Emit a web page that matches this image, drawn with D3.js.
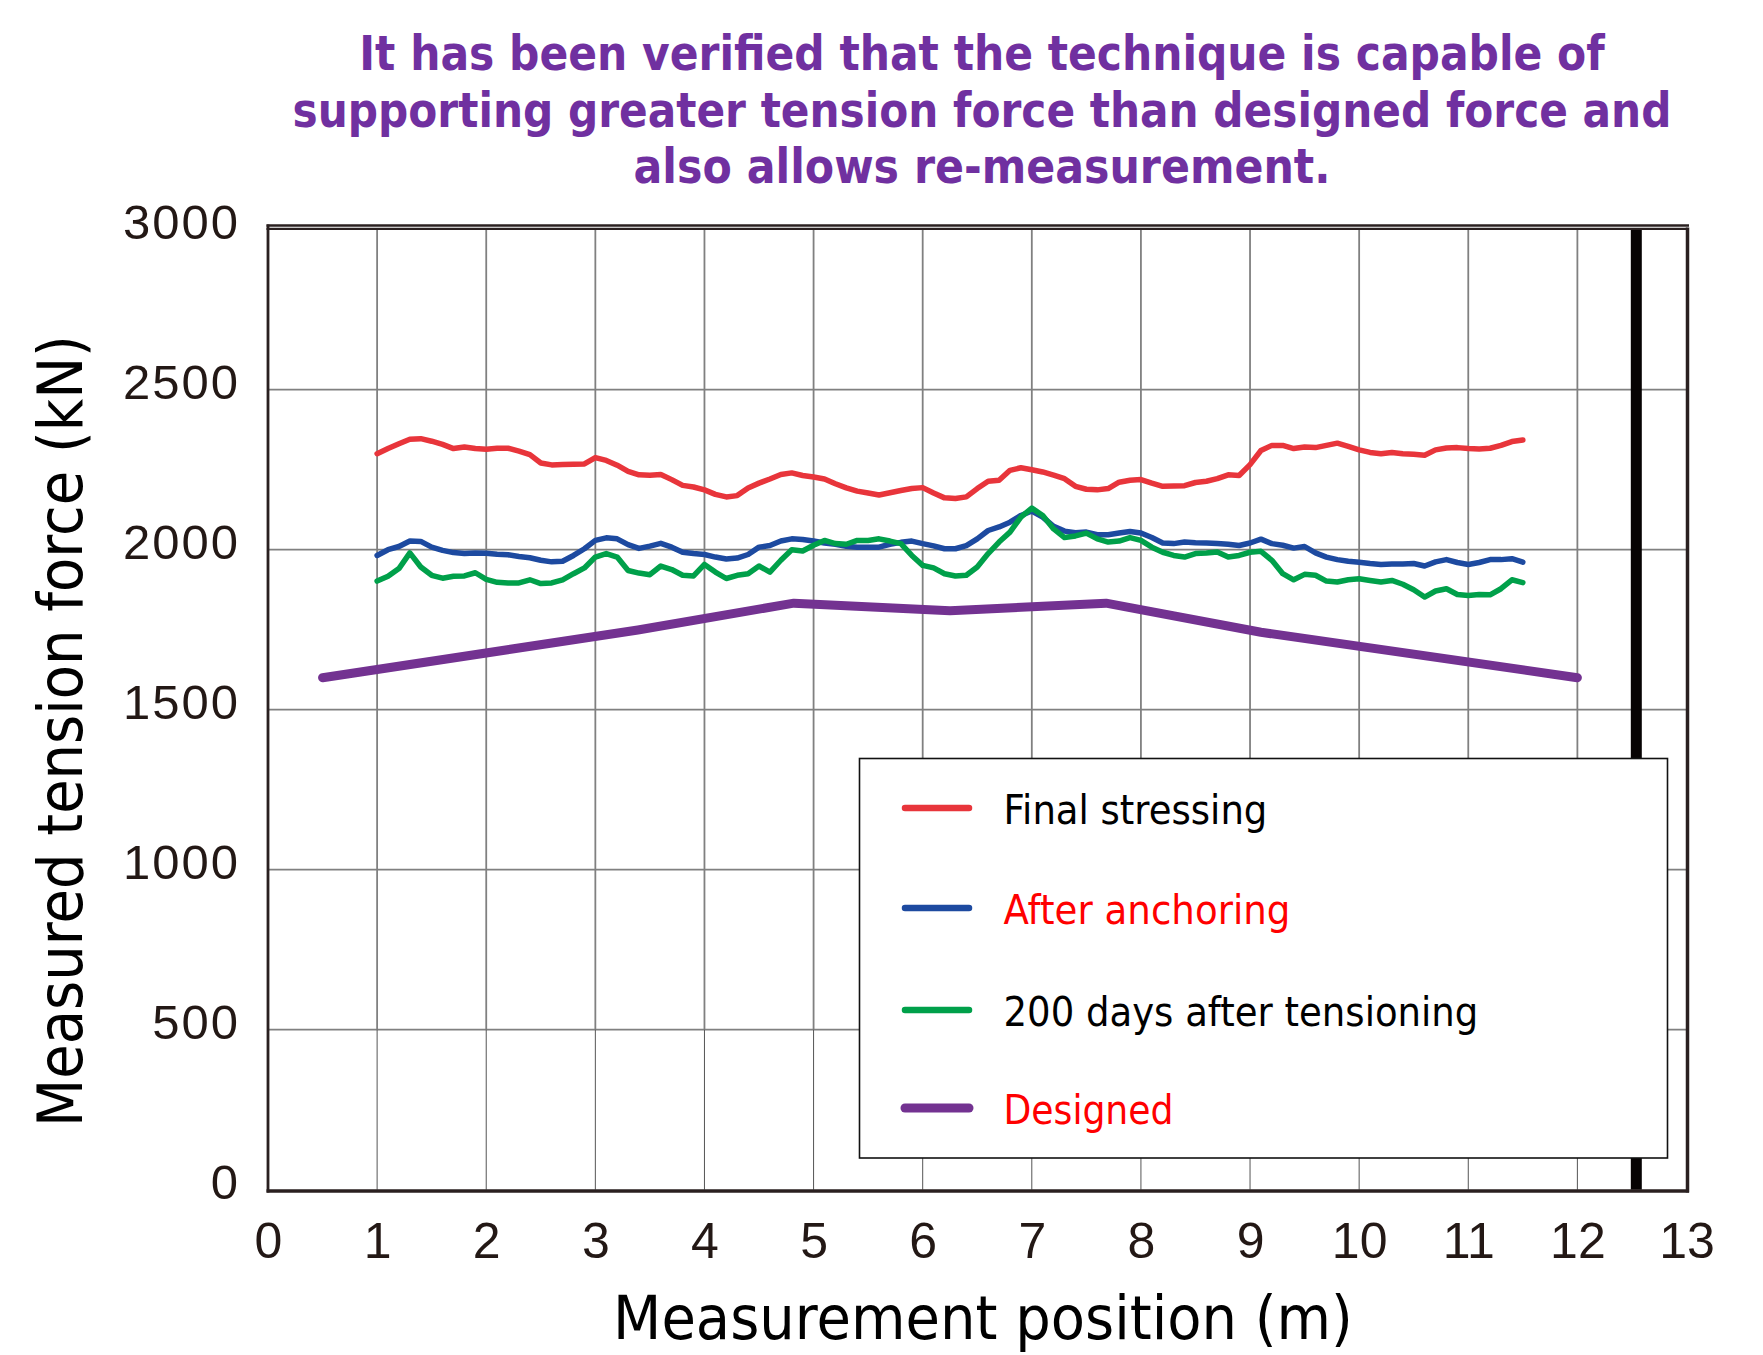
<!DOCTYPE html>
<html>
<head>
<meta charset="utf-8">
<script src="https://cdn.jsdelivr.net/npm/d3@7"></script>
<style>
  html, body { margin: 0; padding: 0; background: #fff; }
  svg { display: block; }
</style>
</head>
<body>
<div id="chart"></div>
<script>
// Measurement positions (m)
const positions = [
  1.0, 1.1, 1.2, 1.3, 1.4, 1.5, 1.6, 1.7, 1.8, 1.9,
  2.0, 2.1, 2.2, 2.3, 2.4, 2.5, 2.6, 2.7, 2.8, 2.9,
  3.0, 3.1, 3.2, 3.3, 3.4, 3.5, 3.6, 3.7, 3.8, 3.9,
  4.0, 4.1, 4.2, 4.3, 4.4, 4.5, 4.6, 4.7, 4.8, 4.9,
  5.0, 5.1, 5.2, 5.3, 5.4, 5.5, 5.6, 5.7, 5.8, 5.9,
  6.0, 6.1, 6.2, 6.3, 6.4, 6.5, 6.6, 6.7, 6.8, 6.9,
  7.0, 7.1, 7.2, 7.3, 7.4, 7.5, 7.6, 7.7, 7.8, 7.9,
  8.0, 8.1, 8.2, 8.3, 8.4, 8.5, 8.6, 8.7, 8.8, 8.9,
  9.0, 9.1, 9.2, 9.3, 9.4, 9.5, 9.6, 9.7, 9.8, 9.9,
  10.0, 10.1, 10.2, 10.3, 10.4, 10.5, 10.6, 10.7, 10.8, 10.9,
  11.0, 11.1, 11.2, 11.3, 11.4, 11.5
];

// Tension force (kN)
const finalStressing = [
  2300, 2316, 2331, 2345, 2347, 2339, 2329, 2316, 2321, 2316,
  2314, 2317, 2317, 2308, 2297, 2271, 2265, 2266, 2267, 2268,
  2288, 2279, 2264, 2245, 2234, 2233, 2235, 2219, 2201, 2196,
  2187, 2173, 2165, 2169, 2193, 2208, 2221, 2235, 2240, 2232,
  2227, 2221, 2206, 2193, 2183, 2177, 2171, 2178, 2185, 2191,
  2194, 2177, 2162, 2160, 2165, 2191, 2214, 2217, 2248, 2256,
  2250, 2243, 2233, 2222, 2198, 2189, 2187, 2191, 2211, 2217,
  2219, 2208, 2198, 2199, 2200, 2210, 2214, 2222, 2234, 2232,
  2266, 2310, 2326, 2326, 2316, 2321, 2319, 2326, 2333, 2323,
  2312, 2304, 2300, 2304, 2300, 2298, 2295, 2312, 2318, 2319,
  2316, 2315, 2317, 2326, 2338, 2343
];

const afterAnchoring = [
  1982, 2000, 2010, 2027, 2026, 2008, 1998, 1991, 1988, 1990,
  1989, 1986, 1984, 1979, 1975, 1967, 1962, 1964, 1982, 2003,
  2029, 2037, 2034, 2016, 2004, 2011, 2020, 2008, 1992, 1988,
  1985, 1977, 1971, 1974, 1985, 2008, 2013, 2027, 2034, 2032,
  2027, 2021, 2017, 2011, 2008, 2008, 2008, 2017, 2023, 2027,
  2019, 2012, 2003, 2003, 2013, 2034, 2060, 2071, 2086, 2107,
  2121, 2102, 2073, 2058, 2053, 2055, 2047, 2047, 2052, 2057,
  2052, 2038, 2021, 2019, 2024, 2022, 2021, 2019, 2017, 2013,
  2021, 2033, 2019, 2014, 2005, 2010, 1990, 1977, 1969, 1964,
  1961, 1957, 1954, 1955, 1955, 1957, 1949, 1962, 1969, 1960,
  1954, 1960, 1969, 1969, 1972, 1961
];

const days200 = [
  1902, 1917, 1941, 1990, 1946, 1920, 1911, 1917, 1918, 1928,
  1907, 1898, 1896, 1896, 1906, 1894, 1896, 1906, 1925, 1943,
  1977, 1988, 1977, 1935, 1927, 1922, 1949, 1938, 1920, 1918,
  1954, 1930, 1910, 1920, 1925, 1949, 1930, 1967, 2000, 1996,
  2014, 2029, 2019, 2017, 2029, 2029, 2034, 2027, 2019, 1982,
  1951, 1943, 1925, 1918, 1920, 1946, 1988, 2024, 2055, 2102,
  2130, 2107, 2065, 2038, 2043, 2052, 2034, 2024, 2027, 2038,
  2029, 2008, 1992, 1982, 1977, 1988, 1990, 1993, 1977, 1982,
  1992, 1995, 1967, 1925, 1906, 1923, 1920, 1902, 1899, 1906,
  1909, 1904, 1899, 1904, 1892, 1875, 1852, 1871, 1878, 1860,
  1857, 1860, 1859, 1878, 1906, 1897
];

const designedPositions = [0.5, 3.39, 4.82, 6.25, 7.68, 9.1, 12.0];
const designedValues = [1600, 1749, 1833, 1809, 1833, 1742, 1600];

const anchorLinePosition = 12.54;

const xTicks = [0, 1, 2, 3, 4, 5, 6, 7, 8, 9, 10, 11, 12, 13];
const yTicks = [0, 500, 1000, 1500, 2000, 2500, 3000];

const titleLines = [
  'It has been verified that the technique is capable of',
  'supporting greater tension force than designed force and',
  'also allows re-measurement.'
];

const legendItems = [
  { label: 'Final stressing', color: '#e8353b', textColor: '#000', width: 6.5, textLen: 264 },
  { label: 'After anchoring', color: '#1d4aa0', textColor: '#ff0000', width: 6.5, textLen: 287 },
  { label: '200 days after tensioning', color: '#00a04a', textColor: '#000', width: 6.5, textLen: 475 },
  { label: 'Designed', color: '#733291', textColor: '#ff0000', width: 9, textLen: 170 }
];

//Chart dimensions
const W = 1763, H = 1355;
const plot = { left: 268, right: 1686.5, top: 229.7, bottom: 1189.7 };
const tahoma = '"DejaVu Sans", Verdana, sans-serif';
const helv = '"Liberation Sans", Arial, Helvetica, sans-serif';

// Scale
const x = d3.scaleLinear().domain([0, 13]).range([plot.left, plot.right]);
const y = d3.scaleLinear().domain([0, 3000]).range([plot.bottom, plot.top]);

const svg = d3.select('#chart').append('svg')
  .attr('width', W)
  .attr('height', H);

// squeeze a text horizontally to a target width (the source font is narrow)
function fitText(sel, cx, cy, target, anchor, rotate) {
  sel.each(function (d, i) {
    const node = this;
    const t = typeof target === 'function' ? target(d, i) : target;
    const px = typeof cx === 'function' ? cx(d, i) : cx;
    const py = typeof cy === 'function' ? cy(d, i) : cy;
    const len = node.getComputedTextLength();
    const k = t / len;
    d3.select(node)
      .attr('text-anchor', anchor)
      .attr('transform', `translate(${px}, ${py})${rotate ? ' rotate(-90)' : ''} scale(${k}, 1)`);
  });
}

//Title
svg.append('g').selectAll('text')
  .data(titleLines)
  .join('text')
  .style('font-family', tahoma)
  .style('font-weight', 'bold')
  .style('font-size', '48px')
  .style('fill', '#7030a0')
  .text(d => d)
  .call(fitText, 982, (d, i) => [70, 127, 183][i], (d, i) => [1246, 1379, 697][i], 'middle');

//Grid
const grid = svg.append('g').attr('class', 'grid');

grid.selectAll('.hgrid')
  .data(yTicks.filter(d => d > 0 && d < 3000))
  .join('line')
  .attr('x1', plot.left).attr('x2', plot.right)
  .attr('y1', d => y(d)).attr('y2', d => y(d))
  .attr('stroke', '#808080')
  .attr('stroke-width', 1.8);

const innerX = xTicks.filter(d => d > 0 && d < 13);

grid.selectAll('.vgrid')
  .data(innerX)
  .join('line')
  .attr('x1', d => x(d)).attr('x2', d => x(d))
  .attr('y1', y(3000)).attr('y2', y(500))
  .attr('stroke', '#808080')
  .attr('stroke-width', 1.8);

grid.selectAll('.vgrid-low')
  .data(innerX)
  .join('line')
  .attr('x1', d => x(d)).attr('x2', d => x(d))
  .attr('y1', y(500)).attr('y2', y(0))
  .attr('stroke', '#555')
  .attr('stroke-width', 1);

// Thick vertical line near the end
svg.append('line')
  .attr('x1', x(anchorLinePosition)).attr('x2', x(anchorLinePosition))
  .attr('y1', y(3000)).attr('y2', y(0))
  .attr('stroke', '#070303')
  .attr('stroke-width', 11);

//Frame
const frame = svg.append('g').attr('stroke', '#2a2020').attr('fill', 'none');
frame.append('line').attr('x1', plot.left - 1.5).attr('x2', plot.right + 2.5)
  .attr('y1', 225.5).attr('y2', 225.5).attr('stroke-width', 2.3);
frame.append('line').attr('x1', plot.left - 1.5).attr('x2', plot.right + 1)
  .attr('y1', 228.8).attr('y2', 228.8).attr('stroke-width', 2.3);
frame.append('line').attr('x1', plot.left).attr('x2', plot.left)
  .attr('y1', 224.5).attr('y2', 1192.5).attr('stroke-width', 2.8);
frame.append('line').attr('x1', plot.right + 1).attr('x2', plot.right + 1)
  .attr('y1', 227.5).attr('y2', 1192.5).attr('stroke-width', 3.5);
frame.append('line').attr('x1', plot.left - 1.5).attr('x2', plot.right + 2.5)
  .attr('y1', 1191).attr('y2', 1191).attr('stroke-width', 3.6);

// Line functions
const measLine = d3.line()
  .x((d, i) => x(positions[i]))
  .y(d => y(d));

const designLine = d3.line()
  .x((d, i) => x(designedPositions[i]))
  .y(d => y(d));

const lines = svg.append('g')
  .attr('fill', 'none')
  .attr('stroke-linejoin', 'round')
  .attr('stroke-linecap', 'round');

lines.append('path')
  .datum(designedValues)
  .attr('d', designLine)
  .attr('stroke', legendItems[3].color)
  .attr('stroke-width', 9);

[[finalStressing, 0], [afterAnchoring, 1], [days200, 2]].forEach(([series, k]) => {
  lines.append('path')
    .datum(series)
    .attr('d', measLine)
    .attr('stroke', legendItems[k].color)
    .attr('stroke-width', 5.5);
});

//Axes
const yAxis = d3.axisLeft(y).tickValues(yTicks).tickFormat(d3.format('d')).tickSize(0).tickPadding(0);
const xAxis = d3.axisBottom(x).tickValues(xTicks).tickFormat(d3.format('d')).tickSize(0).tickPadding(0);

const gy = svg.append('g')
  .attr('transform', 'translate(240, 0)')
  .call(yAxis);
gy.select('.domain').remove();
gy.selectAll('text')
  .attr('dy', null)
  .attr('y', 9)
  .style('font-family', helv)
  .style('font-size', '49px')
  .style('letter-spacing', '2px')
  .style('fill', '#231815');

const gx = svg.append('g')
  .attr('transform', 'translate(0, 1258)')
  .call(xAxis);
gx.select('.domain').remove();
gx.selectAll('text')
  .attr('dy', null)
  .attr('y', 0)
  .style('font-family', helv)
  .style('font-size', '50px')
  .style('fill', '#231815');

//Axis titles
svg.append('text')
  .style('font-family', tahoma)
  .style('font-size', '63px')
  .style('fill', '#000')
  .text('Measured tension force (kN)')
  .call(fitText, 81.5, 731, 792, 'middle', true);

svg.append('text')
  .style('font-family', tahoma)
  .style('font-size', '60px')
  .style('fill', '#000')
  .text('Measurement position (m)')
  .call(fitText, 983, 1339, 740, 'middle');

//Legend
const legend = svg.append('g').attr('class', 'legend');
legend.append('rect')
  .attr('x', 859.5).attr('y', 758.5)
  .attr('width', 808).attr('height', 399.5)
  .attr('fill', '#fff')
  .attr('stroke', '#111')
  .attr('stroke-width', 1.6);

const rowY = [808, 908, 1010, 1108];
const rows = legend.selectAll('.row')
  .data(legendItems)
  .join('g')
  .attr('transform', (d, i) => `translate(0, ${rowY[i]})`);

rows.append('line')
  .attr('x1', 905).attr('x2', 969)
  .attr('y1', 0).attr('y2', 0)
  .attr('stroke', d => d.color)
  .attr('stroke-width', d => d.width)
  .attr('stroke-linecap', 'round');

rows.append('text')
  .style('font-family', tahoma)
  .style('font-size', '41px')
  .style('fill', d => d.textColor)
  .text(d => d.label)
  .call(fitText, 1003.5, 16, d => d.textLen, 'start');
</script>
</body>
</html>
